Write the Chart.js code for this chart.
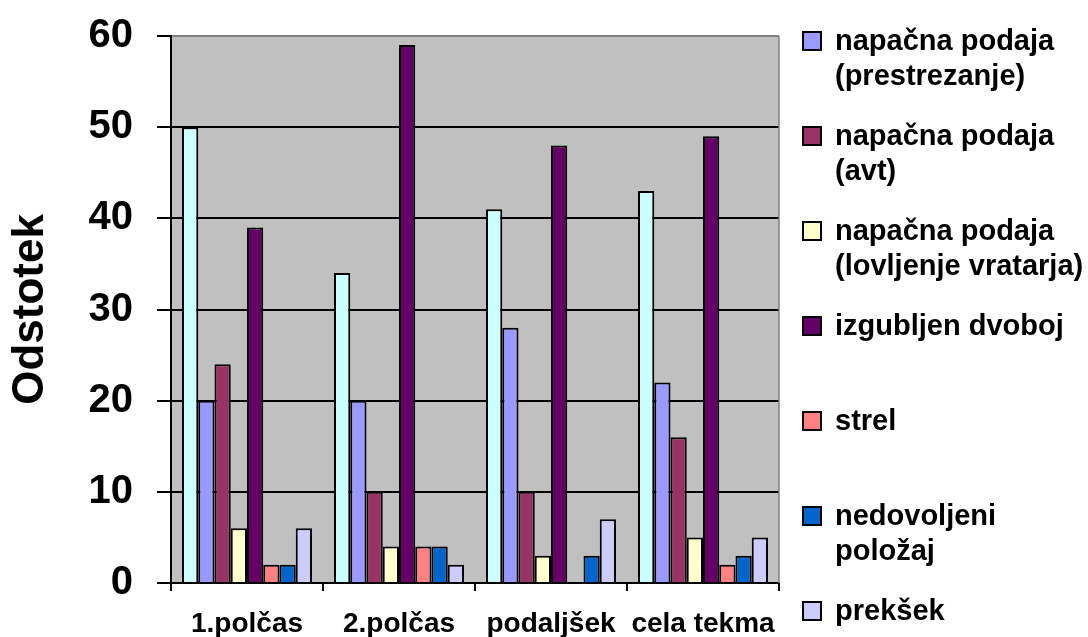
<!DOCTYPE html>
<html>
<head>
<meta charset="utf-8">
<script src="https://cdn.jsdelivr.net/npm/chart.js@4.4.1/dist/chart.umd.min.js"></script>
<style>
  html, body { margin: 0; padding: 0; background: #fff; }
  #wrap { width: 1088px; height: 637px; }
</style>
</head>
<body>
<div id="wrap"><canvas id="chart" width="1088" height="637"></canvas></div>
<script>
// data
const categories = ['1.polčas', '2.polčas', 'podaljšek', 'cela tekma'];
const seriesNames = [
    [''], // first (cyan) series has no legend entry
    ['napačna podaja', '(prestrezanje)'],
    ['napačna podaja', '(avt)'],
    ['napačna podaja', '(lovljenje vratarja)'],
    ['izgubljen dvoboj'],
    ['strel'],
    ['nedovoljeni', 'položaj'],
    ['prekšek']
];
const unnamedValues = [50, 34, 41, 43];
const prestrezanjeValues = [20, 20, 28, 22];
const avtValues = [24, 10, 10, 16];
const vratarValues = [6, 4, 3, 5];
const dvobojValues = [39, 59, 48, 49];
const strelValues = [2, 4, 0, 2];
const polozajValues = [2, 4, 3, 3];
const preksekValues = [6, 2, 7, 5];
const yTicks = [0, 10, 20, 30, 40, 50, 60];

const seriesValues = [unnamedValues, prestrezanjeValues, avtValues, vratarValues,
    dvobojValues, strelValues, polozajValues, preksekValues];
const seriesColors = ['#CCFFFF', '#9999FF', '#993366', '#FFFFCC', '#660066', '#FF8080', '#0066CC', '#CCCCFF'];

const FONT = 'Arial, "Liberation Sans", sans-serif';

// grey plot area + grey right frame
const plotBackground = {
    id: 'plotBackground',
    beforeDraw(chart) {
        const { ctx, chartArea: a } = chart;
        ctx.save();
        ctx.fillStyle = '#C0C0C0';
        ctx.fillRect(a.left, a.top, a.right - a.left, a.bottom - a.top);
        ctx.restore();
    },
    afterDatasetsDraw(chart) {
        const { ctx, chartArea: a } = chart;
        ctx.save();
        ctx.strokeStyle = '#808080';
        ctx.lineWidth = 1.5;
        ctx.beginPath();
        ctx.moveTo(a.right, a.top);
        ctx.lineTo(a.right, a.bottom);
        ctx.stroke();
        ctx.restore();
    }
};

// Excel-like legend on the right, multi-line labels
const sideLegend = {
    id: 'sideLegend',
    afterDraw(chart) {
        const ctx = chart.ctx;
        ctx.save();
        ctx.font = 'bold 29px ' + FONT;
        ctx.textBaseline = 'middle';
        ctx.textAlign = 'left';
        let row = 0;
        chart.data.datasets.forEach(ds => {
            if (!ds.legendLines[0]) return;
            const top = 32 + row * 95;
            ctx.fillStyle = ds.backgroundColor;
            ctx.fillRect(803, top, 18, 18);
            ctx.strokeStyle = '#000';
            ctx.lineWidth = 2;
            ctx.strokeRect(803, top, 18, 18);
            ctx.fillStyle = '#000';
            ds.legendLines.forEach((line, i) => {
                ctx.fillText(line, 835, top + 10 + i * 35);
            });
            row++;
        });
        ctx.restore();
    }
};

const datasets = seriesValues.map((values, i) => ({
    label: seriesNames[i].join(' '),
    legendLines: seriesNames[i],
    data: values,
    backgroundColor: seriesColors[i],
    borderColor: '#000',
    borderWidth: 2,
    categoryPercentage: 0.855,
    barPercentage: 1
}));

new Chart(document.getElementById('chart'), {
    type: 'bar',
    data: { labels: categories, datasets: datasets },
    options: {
        responsive: false,
        animation: false,
        devicePixelRatio: 1,
        layout: { padding: { top: 36, right: 309, left: 0, bottom: 0 } },
        plugins: {
            legend: { display: false },
            tooltip: { enabled: false }
        },
        scales: {
            x: {
                grid: {
                    drawOnChartArea: false,
                    offset: true,
                    tickLength: 8,
                    color: '#000',
                    lineWidth: 2
                },
                border: { color: '#000', width: 2 },
                ticks: {
                    font: { family: FONT, size: 28, weight: 'bold' },
                    color: '#000',
                    padding: 16,
                    maxRotation: 0,
                    autoSkip: false
                },
                afterFit: s => { s.height = 54; }
            },
            y: {
                min: 0,
                max: 60,
                afterBuildTicks: s => { s.ticks = yTicks.map(v => ({ value: v })); },
                grid: {
                    color: c => (c.tick && c.tick.value === 60) ? '#808080' : '#000',
                    lineWidth: 2,
                    tickLength: 14,
                    tickColor: '#000'
                },
                border: { color: '#000', width: 2 },
                ticks: {
                    font: { family: FONT, size: 40, weight: 'bold' },
                    color: '#000',
                    padding: 24
                },
                title: {
                    display: true,
                    text: 'Odstotek',
                    color: '#000',
                    font: { family: FONT, size: 44, weight: 'bold' },
                    padding: { top: 4, bottom: 0 }
                },
                afterFit: s => {
                    s.width = 171;
                    s.paddingTop = 0;
                    s.paddingBottom = 0;
                }
            }
        }
    },
    plugins: [plotBackground, sideLegend]
});
</script>
</body>
</html>
